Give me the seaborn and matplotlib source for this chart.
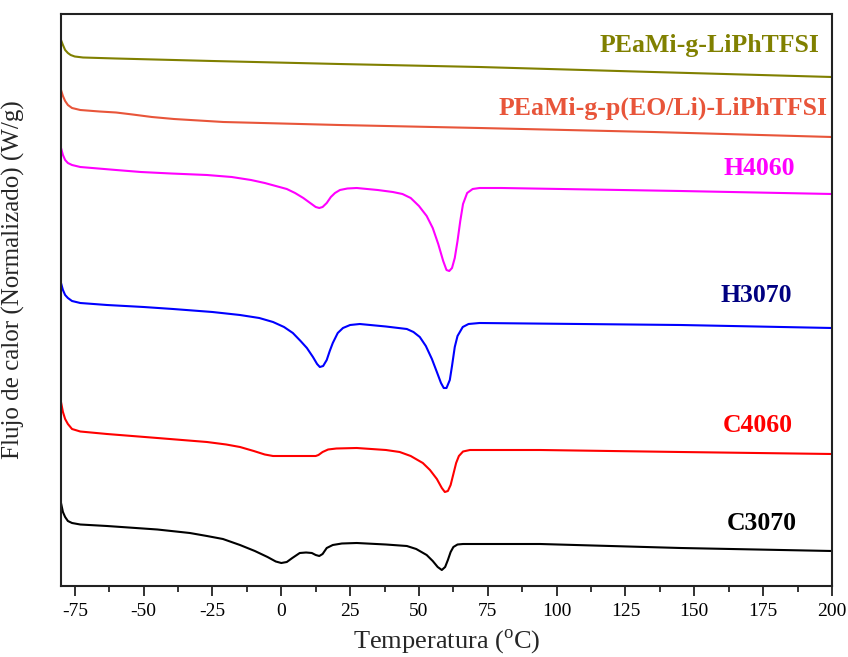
import numpy as np
import pandas as pd
import matplotlib
matplotlib.use("Agg")
import matplotlib.pyplot as plt
import seaborn as sns
from matplotlib.ticker import MultipleLocator

# ---------------- data ----------------
olive_T = [-80, -79.3, -78.5, -77.5, -76.5, -75, -72, -60, -25, 21, 72, 135, 200]
olive_y = [5.46, 5.41, 5.36, 5.33, 5.31, 5.295, 5.285, 5.275, 5.25, 5.22, 5.19, 5.14, 5.09]

orange_T = [-80, -79.3, -78.5, -77.5, -76, -73, -66, -60, -54, -47, -39, -30, -21, 0,
            21, 72, 135, 200]
orange_y = [4.96, 4.90, 4.85, 4.81, 4.78, 4.76, 4.745, 4.735, 4.715, 4.69, 4.67, 4.655,
            4.64, 4.625, 4.61, 4.58, 4.54, 4.49]

h4060_T = [-80, -79.3, -78.5, -77.5, -76, -73, -60, -51, -40, -27, -18, -11, -6, -2, 2,
           5, 8, 10.5, 12.5, 13.8, 15, 16.5, 18, 19.5, 21.3, 24, 27.4, 35, 40.5, 44, 47,
           50, 52.8, 55, 57, 58.8, 60, 61, 62, 63, 64, 65, 66, 67.5, 69.5, 72, 80, 145, 200]
h4060_y = [4.38, 4.31, 4.26, 4.23, 4.21, 4.19, 4.16, 4.14, 4.125, 4.11, 4.09, 4.06, 4.03,
           4.00, 3.97, 3.93, 3.88, 3.83, 3.79, 3.78, 3.79, 3.83, 3.89, 3.93, 3.96, 3.975,
           3.98, 3.96, 3.94, 3.92, 3.88, 3.80, 3.70, 3.58, 3.42, 3.25, 3.16, 3.15, 3.18,
           3.28, 3.45, 3.65, 3.82, 3.93, 3.97, 3.98, 3.98, 3.95, 3.92]

h3070_T = [-80, -79.3, -78.5, -77.5, -76, -73, -63.3, -50, -39.3, -25, -15, -8, -3, 1,
           4.2, 7, 9.3, 11.5, 13, 14, 15.2, 16.5, 17.6, 18.7, 20.5, 22.4, 25, 28.5, 38,
           45.6, 48, 50.3, 52.5, 54.7, 56.5, 58, 59, 60, 61.2, 62, 63, 64, 65.9, 68, 72,
           145, 200]
h3070_y = [3.03, 2.96, 2.91, 2.88, 2.85, 2.83, 2.81, 2.79, 2.77, 2.74, 2.71, 2.68, 2.64,
           2.59, 2.53, 2.45, 2.38, 2.29, 2.22, 2.19, 2.20, 2.26, 2.35, 2.43, 2.53, 2.58,
           2.61, 2.62, 2.595, 2.57, 2.54, 2.49, 2.40, 2.27, 2.14, 2.03, 1.98, 1.98, 2.06,
           2.20, 2.39, 2.50, 2.59, 2.62, 2.63, 2.61, 2.58]

c4060_T = [-80, -79.3, -78.5, -77.5, -76, -73, -63.3, -45, -27, -20, -15, -10, -6, -3, 5,
           12.5, 13.5, 15, 17, 20, 27.4, 38, 43, 47, 51.4, 54, 56.5, 58.3, 59.4, 60.5,
           61.5, 62.5, 63.5, 64.5, 66, 68.5, 94, 145, 200]
c4060_y = [1.84, 1.74, 1.67, 1.62, 1.57, 1.545, 1.52, 1.48, 1.44, 1.415, 1.39, 1.35,
           1.315, 1.30, 1.30, 1.30, 1.31, 1.34, 1.365, 1.375, 1.38, 1.36, 1.34, 1.30,
           1.23, 1.16, 1.07, 0.98, 0.94, 0.95, 1.01, 1.12, 1.23, 1.30, 1.345, 1.36, 1.36,
           1.34, 1.32]

c3070_T = [-80, -79.3, -78.5, -77.5, -76, -73, -63.3, -45, -33.2, -27, -21.2, -15, -9.6,
           -5, -2, 0, 2, 4, 6.7, 9, 11.1, 12.5, 13.8, 15, 16.5, 18.7, 22, 27.4, 38, 45.6,
           49, 52.8, 55, 56.8, 58.3, 59.5, 60.5, 61.5, 62.5, 64, 66, 94, 145, 200]
c3070_y = [0.83, 0.74, 0.69, 0.65, 0.63, 0.615, 0.60, 0.565, 0.53, 0.50, 0.47, 0.41,
           0.35, 0.29, 0.245, 0.23, 0.24, 0.28, 0.33, 0.335, 0.33, 0.31, 0.30, 0.32,
           0.38, 0.41, 0.425, 0.43, 0.415, 0.40, 0.37, 0.31, 0.25, 0.19, 0.16, 0.19,
           0.26, 0.34, 0.39, 0.415, 0.42, 0.42, 0.38, 0.35]

names = ["PEaMi-g-LiPhTFSI", "PEaMi-g-p(EO/Li)-LiPhTFSI", "H4060", "H3070", "C4060", "C3070"]
series_T = [olive_T, orange_T, h4060_T, h3070_T, c4060_T, c3070_T]
series_y = [olive_y, orange_y, h4060_y, h3070_y, c4060_y, c3070_y]
line_colors = ["#808000", "#E8553A", "#FF00FF", "#0000FF", "#FF0000", "#000000"]
label_colors = ["#808000", "#E8553A", "#FF00FF", "#000080", "#FF0000", "#000000"]
label_pos = [(195.5, 5.41), (198.4, 4.78), (186.4, 4.18), (185.3, 2.91), (185.7, 1.61), (187.2, 0.63)]

xticks = [-75, -50, -25, 0, 25, 50, 75, 100, 125, 150, 175, 200]

# ---------------- plot ----------------
sns.set_style("ticks")
plt.rcParams["font.family"] = ["Liberation Serif", "DejaVu Serif"]
plt.rcParams["mathtext.fontset"] = "custom"
plt.rcParams["mathtext.rm"] = "Liberation Serif"

fig = plt.figure(figsize=(8.48, 6.57), dpi=100)
ax = fig.add_axes([61 / 848, (657 - 586) / 657, (832 - 61) / 848, (586 - 14) / 657])

frames = []
for n, T, y in zip(names, series_T, series_y):
    frames.append(pd.DataFrame({"T": T, "y": y, "s": n}))
df = pd.concat(frames, ignore_index=True)

sns.lineplot(data=df, x="T", y="y", hue="s", hue_order=names,
             palette=dict(zip(names, line_colors)), sort=False,
             linewidth=1.5, legend=False, ax=ax, estimator=None)
for ln in ax.get_lines():
    ln.set_solid_joinstyle("round")

for n, c, (tx, ty) in zip(names, label_colors, label_pos):
    ax.text(tx, ty, n, color=c, fontsize=18.5, fontweight="bold",
            ha="right", va="center")

ax.set_xlim(-80, 200)
ax.set_ylim(0, 5.72)
ax.set_xticks(xticks)
ax.set_xticklabels([str(t) for t in xticks])
ax.xaxis.set_minor_locator(MultipleLocator(12.5))
ax.set_yticks([])
ax.tick_params(axis="x", which="major", direction="out", length=7.5, width=1.3,
               labelsize=14, pad=5, colors="#222222")
ax.tick_params(axis="x", which="minor", direction="out", length=4.5, width=1.3)
ax.tick_params(axis="x", labelcolor="black")
for sp in ax.spines.values():
    sp.set_visible(True)
    sp.set_linewidth(1.5)
    sp.set_color("#222222")

ax.set_xlabel("Temperatura ($^\\mathregular{o}$C)", fontsize=19, labelpad=5)
ax.set_ylabel("Flujo de calor (Normalizado) (W/g)", fontsize=18)
ax.yaxis.set_label_coords(-0.047, 0.535)

fig.savefig("out.png", dpi=100, facecolor="white")
